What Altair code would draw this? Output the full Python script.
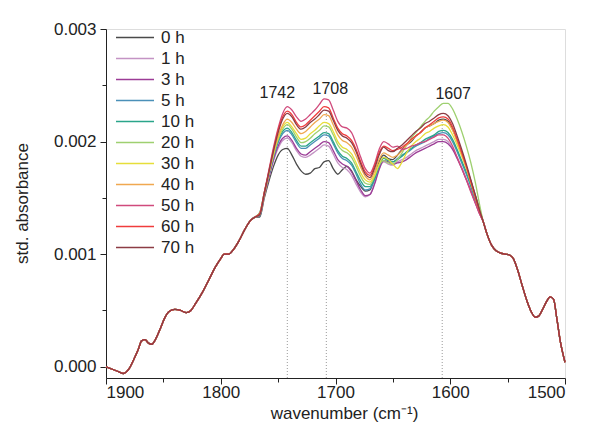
import altair as alt
import pandas as pd

series_names = ["0 h", "1 h", "3 h", "5 h", "10 h", "20 h", "30 h", "40 h", "50 h", "60 h", "70 h"]
series_colors = ["#4a4a4a", "#c493c4", "#9c3c96", "#4a90b8", "#2aa58a", "#9ed070",
                 "#e6de3a", "#f0a850", "#d04a7c", "#f03c3c", "#8c3c44"]

# shared edges (absorbance x 1e-3)
left_w = [1900, 1895, 1890, 1885, 1880, 1876, 1872, 1869, 1866, 1863, 1860, 1857, 1853, 1849,
          1845, 1840, 1835, 1830, 1826, 1822, 1816, 1810, 1805, 1800, 1797, 1793, 1789, 1784,
          1779, 1774, 1770]
left_v = [0.00, -0.02, -0.04, -0.06, -0.02, 0.06, 0.15, 0.23, 0.24, 0.21, 0.20, 0.24, 0.33, 0.43,
          0.49, 0.51, 0.50, 0.48, 0.50, 0.56, 0.66, 0.78, 0.88, 0.96, 1.00, 1.00, 1.04, 1.12,
          1.22, 1.30, 1.33]
tail_w = [1571, 1568, 1564, 1560, 1556, 1552, 1548, 1545, 1541, 1537, 1533, 1529, 1526, 1523,
          1519, 1516, 1513, 1510, 1507, 1504, 1500]
tail_v = [1.28, 1.18, 1.08, 1.03, 1.01, 1.00, 0.99, 0.96, 0.85, 0.71, 0.58, 0.48, 0.44, 0.45,
          0.52, 0.58, 0.62, 0.60, 0.42, 0.22, 0.04]

mid_w = [1766, 1762, 1758, 1754, 1750, 1746, 1742, 1738, 1734, 1730, 1726, 1722, 1718, 1714,
         1710, 1706, 1702, 1698, 1694, 1690, 1686, 1682, 1678, 1674, 1670, 1666, 1662, 1658,
         1654, 1650, 1646, 1642, 1638, 1634, 1630, 1626, 1622, 1618, 1614, 1610, 1606, 1602,
         1598, 1594, 1590, 1586, 1582, 1578, 1575]

mid_0h = [1.33, 1.50, 1.65, 1.78, 1.88, 1.93, 1.94, 1.88, 1.80, 1.74, 1.71, 1.72, 1.76, 1.77,
          1.82, 1.83, 1.76, 1.71, 1.75, 1.78, 1.74, 1.66, 1.60, 1.56, 1.57, 1.68, 1.82, 1.88,
          1.85, 1.84, 1.88, 1.93, 1.97, 2.00, 2.05, 2.08, 2.12, 2.14, 2.16, 2.19, 2.20, 2.18,
          2.11, 2.01, 1.90, 1.78, 1.65, 1.52, 1.42]
mid_1h = [1.35, 1.52, 1.68, 1.83, 1.94, 2.01, 2.03, 1.99, 1.92, 1.87, 1.86, 1.88, 1.91, 1.94,
          1.97, 1.96, 1.89, 1.81, 1.77, 1.75, 1.70, 1.62, 1.55, 1.51, 1.53, 1.63, 1.76, 1.82,
          1.80, 1.79, 1.82, 1.84, 1.86, 1.89, 1.92, 1.94, 1.96, 1.98, 2.00, 2.02, 2.02, 2.00,
          1.94, 1.86, 1.77, 1.67, 1.57, 1.46, 1.38]
mid_3h = [1.35, 1.53, 1.69, 1.84, 1.96, 2.03, 2.05, 2.01, 1.94, 1.89, 1.88, 1.91, 1.94, 1.97,
          2.00, 1.99, 1.92, 1.84, 1.80, 1.78, 1.73, 1.65, 1.57, 1.52, 1.53, 1.62, 1.75, 1.83,
          1.82, 1.80, 1.81, 1.82, 1.84, 1.87, 1.90, 1.92, 1.94, 1.96, 1.98, 2.00, 2.00, 1.98,
          1.93, 1.85, 1.76, 1.66, 1.56, 1.45, 1.37]
mid_5h = [1.34, 1.53, 1.70, 1.86, 1.99, 2.07, 2.10, 2.06, 1.99, 1.94, 1.94, 1.97, 2.00, 2.03,
          2.06, 2.05, 1.98, 1.90, 1.85, 1.83, 1.79, 1.71, 1.62, 1.57, 1.58, 1.66, 1.79, 1.86,
          1.84, 1.82, 1.85, 1.88, 1.90, 1.93, 1.96, 1.98, 2.00, 2.03, 2.05, 2.07, 2.08, 2.06,
          2.00, 1.91, 1.81, 1.71, 1.60, 1.48, 1.39]
mid_10h = [1.37, 1.55, 1.72, 1.88, 2.01, 2.09, 2.12, 2.08, 2.01, 1.96, 1.96, 1.99, 2.02, 2.05,
           2.08, 2.07, 2.00, 1.92, 1.87, 1.85, 1.81, 1.73, 1.65, 1.60, 1.60, 1.67, 1.78, 1.85,
           1.83, 1.82, 1.84, 1.87, 1.91, 1.94, 1.97, 1.99, 2.02, 2.04, 2.06, 2.09, 2.10, 2.08,
           2.02, 1.93, 1.83, 1.73, 1.61, 1.49, 1.40]
mid_20h = [1.37, 1.55, 1.72, 1.88, 2.02, 2.11, 2.15, 2.11, 2.04, 1.99, 2.00, 2.03, 2.07, 2.10,
           2.14, 2.13, 2.06, 1.97, 1.92, 1.90, 1.86, 1.78, 1.69, 1.63, 1.62, 1.69, 1.79, 1.83,
           1.81, 1.80, 1.84, 1.90, 1.97, 2.03, 2.08, 2.13, 2.18, 2.22, 2.27, 2.31, 2.34, 2.34,
           2.29, 2.20, 2.09, 1.96, 1.81, 1.63, 1.47]
mid_30h = [1.36, 1.54, 1.72, 1.89, 2.03, 2.13, 2.17, 2.13, 2.07, 2.02, 2.03, 2.07, 2.10, 2.14,
           2.17, 2.16, 2.09, 2.00, 1.95, 1.93, 1.89, 1.81, 1.72, 1.66, 1.64, 1.70, 1.80, 1.86,
           1.84, 1.80, 1.76, 1.82, 1.90, 1.96, 2.00, 2.03, 2.07, 2.09, 2.12, 2.14, 2.15, 2.13,
           2.06, 1.97, 1.87, 1.76, 1.63, 1.50, 1.40]
mid_40h = [1.35, 1.53, 1.72, 1.90, 2.05, 2.15, 2.20, 2.17, 2.11, 2.07, 2.09, 2.13, 2.17, 2.20,
           2.24, 2.23, 2.15, 2.06, 2.01, 1.99, 1.95, 1.87, 1.77, 1.69, 1.66, 1.73, 1.84, 1.90,
           1.88, 1.86, 1.88, 1.92, 1.97, 2.01, 2.05, 2.08, 2.12, 2.14, 2.16, 2.18, 2.19, 2.17,
           2.10, 2.00, 1.89, 1.77, 1.64, 1.50, 1.40]
mid_50h = [1.36, 1.55, 1.75, 1.95, 2.12, 2.25, 2.31, 2.28, 2.22, 2.18, 2.20, 2.24, 2.28, 2.33,
           2.38, 2.37, 2.28, 2.18, 2.13, 2.12, 2.08, 1.98, 1.86, 1.76, 1.72, 1.80, 1.93, 2.00,
           1.98, 1.95, 1.96, 1.93, 1.94, 1.96, 1.97, 1.99, 2.00, 2.02, 2.04, 2.06, 2.06, 2.03,
           1.96, 1.86, 1.76, 1.66, 1.55, 1.45, 1.37]
mid_60h = [1.36, 1.55, 1.74, 1.93, 2.10, 2.22, 2.27, 2.24, 2.17, 2.13, 2.15, 2.19, 2.23, 2.27,
           2.31, 2.30, 2.21, 2.12, 2.07, 2.05, 2.01, 1.93, 1.82, 1.73, 1.70, 1.78, 1.90, 1.96,
           1.94, 1.92, 1.93, 1.95, 1.98, 2.02, 2.05, 2.08, 2.12, 2.15, 2.18, 2.21, 2.22, 2.20,
           2.13, 2.02, 1.90, 1.78, 1.64, 1.50, 1.40]
mid_70h = [1.35, 1.54, 1.73, 1.92, 2.08, 2.20, 2.25, 2.22, 2.15, 2.11, 2.13, 2.17, 2.20, 2.24,
           2.28, 2.27, 2.19, 2.10, 2.05, 2.03, 1.99, 1.91, 1.80, 1.71, 1.68, 1.76, 1.88, 1.95,
           1.92, 1.91, 1.94, 1.97, 2.01, 2.05, 2.09, 2.12, 2.16, 2.18, 2.21, 2.24, 2.25, 2.23,
           2.16, 2.05, 1.93, 1.80, 1.66, 1.52, 1.41]

mids = [mid_0h, mid_1h, mid_3h, mid_5h, mid_10h, mid_20h, mid_30h, mid_40h, mid_50h, mid_60h, mid_70h]

peak_positions = [1742, 1708, 1607]
peak_tops = [2.22, 2.30, 2.22]
peak_labels = ["1742", "1708", "1607"]
label_y = [2.43, 2.47, 2.42]
label_dx = [-10, 4, 11]

rows = []
for name, mid in zip(series_names, mids):
    ws = left_w + mid_w + tail_w
    vs = left_v + mid + tail_v
    for k, (w, v) in enumerate(zip(ws, vs)):
        rows.append({"series": name, "wn": w, "abs": v / 1000.0, "k": k})
df = pd.DataFrame(rows)

peak_df = pd.DataFrame({
    "wn": peak_positions,
    "lo": [-0.0001] * 3,
    "hi": [t / 1000.0 for t in peak_tops],
})

FONT = "Liberation Sans"
xscale = alt.Scale(domain=[1900, 1500], nice=False, zero=False)
yscale = alt.Scale(domain=[-0.0001, 0.003], nice=False, zero=False)

x_ticks = [1900, 1850, 1800, 1750, 1700, 1650, 1600, 1550, 1500]
y_ticks = [0.0, 0.0005, 0.001, 0.0015, 0.002, 0.0025, 0.003]

xaxis = alt.Axis(
    values=x_ticks, format="d", title="wavenumber (cm\u207b\u00b9)",
    labelExpr="datum.value % 100 === 0 ? datum.label : ''",
    tickSize={"condition": {"test": "datum.value % 100 === 0", "value": 6}, "value": 4},
    grid=False, labelFontSize=17, titleFontSize=17, labelFont=FONT, titleFont=FONT,
    titleFontWeight="normal", labelPadding=0, titleX=238, titleY=35, titleBaseline="middle",
    domainColor="#222", tickColor="#222", labelColor="#222", titleColor="#222",
)
yaxis = alt.Axis(
    values=y_ticks, format=".3f", title="std. absorbance",
    labelExpr="round(datum.value * 10000) % 10 === 0 ? datum.label : ''",
    tickSize={"condition": {"test": "round(datum.value * 10000) % 10 === 0", "value": 6}, "value": 4},
    grid=False, labelFontSize=17, titleFontSize=17, labelFont=FONT, titleFont=FONT,
    titleFontWeight="normal", labelPadding=4, titleX=-84, titleY=174, titleAngle=270,
    titleAlign="center", titleBaseline="middle",
    domainColor="#222", tickColor="#222", labelColor="#222", titleColor="#222",
)

rules = alt.Chart(peak_df).mark_rule(color="#9a9a9a", strokeDash=[1, 2], strokeWidth=1).encode(
    x=alt.X("wn:Q", scale=xscale, axis=xaxis),
    y=alt.Y("lo:Q", scale=yscale, axis=yaxis),
    y2="hi:Q",
)

lines = alt.Chart(df).mark_line(strokeWidth=1.3, interpolate="monotone").encode(
    x=alt.X("wn:Q", scale=xscale, axis=xaxis),
    y=alt.Y("abs:Q", scale=yscale, axis=yaxis),
    color=alt.Color(
        "series:N",
        scale=alt.Scale(domain=series_names, range=series_colors),
        sort=series_names,
        legend=alt.Legend(
            title=None, orient="none", legendX=9, legendY=-2,
            symbolType="M-1,0H3", symbolSize=361, symbolStrokeWidth=1.6,
            labelFontSize=17, labelFont=FONT, labelColor="#222", labelOffset=25,
            rowPadding=2, padding=0,
        ),
    ),
    detail="series:N",
    order=alt.Order("k:Q"),
)

texts = []
for p, lab, ly, dx in zip(peak_positions, peak_labels, label_y, label_dx):
    tdf = pd.DataFrame({"wn": [p], "y": [ly / 1000.0], "t": [lab]})
    texts.append(
        alt.Chart(tdf).mark_text(fontSize=16, font=FONT, color="#222", dx=dx, baseline="middle").encode(
            x=alt.X("wn:Q", scale=xscale),
            y=alt.Y("y:Q", scale=yscale),
            text="t:N",
        )
    )

chart = alt.layer(rules, lines, *texts).properties(
    width=459, height=349,
    autosize=alt.AutoSizeParams(type="none"),
    padding={"left": 106, "top": 29, "right": 24, "bottom": 63},
).configure_view(stroke=None).configure(background="white")

chart.save("out.html", embed_options={"renderer": "svg", "actions": False})
